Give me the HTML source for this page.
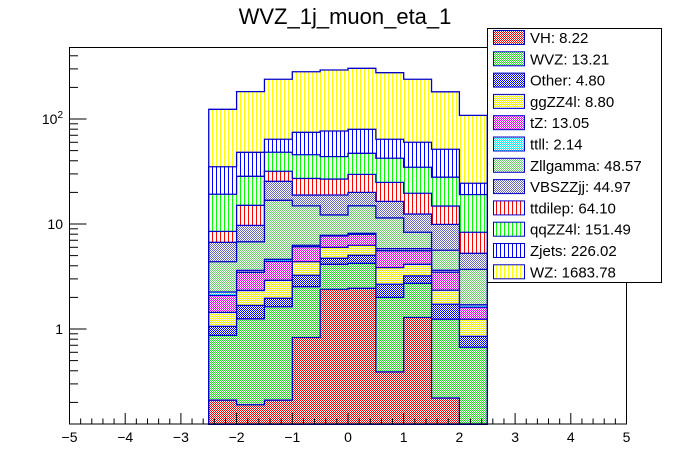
<!DOCTYPE html>
<html><head><meta charset="utf-8"><style>
html,body{margin:0;padding:0;background:#fff;}
svg{display:block;font-family:"Liberation Sans",sans-serif;}
pattern rect{shape-rendering:crispEdges;}
</style></head><body>
<svg id="chart" width="696" height="472" viewBox="0 0 696 472" xmlns="http://www.w3.org/2000/svg">
<defs>
<pattern id="p-VH" width="2" height="2" patternUnits="userSpaceOnUse"><rect width="2" height="2" fill="#fff"/><rect width="1" height="1" fill="#e00"/><rect x="1" y="1" width="1" height="1" fill="#e00"/></pattern>
<pattern id="p-WVZ" width="2" height="2" patternUnits="userSpaceOnUse"><rect width="2" height="2" fill="#fff"/><rect width="1" height="1" fill="#2d2"/><rect x="1" y="1" width="1" height="1" fill="#2d2"/></pattern>
<pattern id="p-Other" width="2" height="2" patternUnits="userSpaceOnUse"><rect width="2" height="2" fill="#fff"/><rect width="1" height="1" fill="#00e"/><rect x="1" y="1" width="1" height="1" fill="#00e"/></pattern>
<pattern id="p-ggZZ4l" width="2" height="2" patternUnits="userSpaceOnUse"><rect width="2" height="2" fill="#fff"/><rect width="1" height="1" fill="#ee0"/><rect x="1" y="1" width="1" height="1" fill="#ee0"/></pattern>
<pattern id="p-tZ" width="2" height="2" patternUnits="userSpaceOnUse"><rect width="2" height="2" fill="#fff"/><rect width="1" height="1" fill="#e0e"/><rect x="1" y="1" width="1" height="1" fill="#e0e"/></pattern>
<pattern id="p-ttll" width="2" height="2" patternUnits="userSpaceOnUse"><rect width="2" height="2" fill="#fff"/><rect width="1" height="1" fill="#0ee"/><rect x="1" y="1" width="1" height="1" fill="#0ee"/></pattern>
<pattern id="p-Zllgamma" width="2" height="2" patternUnits="userSpaceOnUse"><rect width="2" height="2" fill="#fff"/><rect width="1" height="1" fill="#6c6"/><rect x="1" y="1" width="1" height="1" fill="#6c6"/></pattern>
<pattern id="p-VBSZZjj" width="2" height="2" patternUnits="userSpaceOnUse"><rect width="2" height="2" fill="#fff"/><rect width="1" height="1" fill="#66b"/><rect x="1" y="1" width="1" height="1" fill="#66b"/></pattern>
<pattern id="p-ttdilep" width="4" height="4" patternUnits="userSpaceOnUse"><rect width="4" height="4" fill="#fff"/><rect width="1" height="4" fill="#f00"/></pattern>
<pattern id="p-qqZZ4l" width="4" height="4" patternUnits="userSpaceOnUse"><rect width="4" height="4" fill="#fff"/><rect width="1" height="4" fill="#0f0"/></pattern>
<pattern id="p-Zjets" width="4" height="4" patternUnits="userSpaceOnUse"><rect width="4" height="4" fill="#fff"/><rect width="1" height="4" fill="#00f"/></pattern>
<pattern id="p-WZ" width="4" height="4" patternUnits="userSpaceOnUse"><rect width="4" height="4" fill="#fff"/><rect width="1" height="4" fill="#ff0"/></pattern>
</defs>
<text x="345" y="24" font-size="22" text-anchor="middle" fill="#000">WVZ_1j_muon_eta_1</text>
<g id="bars"></g>
<rect x="69.5" y="47.5" width="557" height="376.5" fill="none" stroke="#000" stroke-width="1"/>
<g id="axes"></g>
<g id="legend"></g>
</svg>
<script>
// bin edges (eta)
const binEdges = [-2.5,-2.0,-1.5,-1.0,-0.5,0.0,0.5,1.0,1.5,2.0,2.5];
// series (bottom of stack first)
const seriesNames = ["VH","WVZ","Other","ggZZ4l","tZ","ttll","Zllgamma","VBSZZjj","ttdilep","qqZZ4l","Zjets","WZ"];
const legendLabels = ["VH: 8.22","WVZ: 13.21","Other: 4.80","ggZZ4l: 8.80","tZ: 13.05","ttll: 2.14","Zllgamma: 48.57","VBSZZjj: 44.97","ttdilep: 64.10","qqZZ4l: 151.49","Zjets: 226.02","WZ: 1683.78"];
const VH       = [0.21,0.19,0.21,0.83,2.39,2.44,0.39,1.29,0.22,0.05];
const WVZ      = [0.66,1.06,1.42,1.70,1.74,1.78,1.61,1.43,1.02,0.62];
const Other    = [0.19,0.43,0.33,0.72,0.58,0.81,0.67,0.48,0.48,0.18];
const ggZZ4l   = [0.38,0.65,0.95,1.12,1.29,1.24,1.17,0.93,0.62,0.39];
const tZ       = [0.65,1.13,1.50,1.71,1.69,1.71,1.73,1.44,1.13,0.37];
const ttll     = [0.16,0.15,0.20,0.19,0.11,0.17,0.25,0.25,0.15,0.09];
const Zllgamma = [2.12,3.16,12.2,8.6,4.4,6.75,5.6,2.52,2.0,2.0];
const VBSZZjj  = [2.32,2.94,8.7,4.0,6.7,5.1,5.0,4.1,4.3,1.56];
const ttdilep  = [1.82,5.35,6.3,8.3,7.9,9.7,8.5,7.2,4.9,3.08];
const qqZZ4l   = [10.7,13.4,16.4,18.5,17.0,17.4,17.4,15.1,13.1,10.7];
const Zjets    = [15.9,19.7,15.9,29.0,33.1,32.7,21.8,25.3,23.6,5.4];
const WZ       = [88.6,134,175,207,216,224,212,179,130,83.8];
const seriesValues = [VH,WVZ,Other,ggZZ4l,tZ,ttll,Zllgamma,VBSZZjj,ttdilep,qqZZ4l,Zjets,WZ];
const xTickLabels = ["\u22125","\u22124","\u22123","\u22122","\u22121","0","1","2","3","4","5"];
const yTickLabels = [["1",1],["10",10],["10²",100]];

const X0=69.5, X1=626.5, XMIN=-5, XMAX=5;
const YB=424, Y1=329, DEC=105, YT=47.5;
const NS="http://www.w3.org/2000/svg";
function xPos(v){return X0+(v-XMIN)/(XMAX-XMIN)*(X1-X0);}
function yPos(v){ if(v<=0) return YB+10; const y=Y1-Math.log10(v)*DEC; return Math.min(YB, Math.max(YT,y)); }
function mk(tag,attrs,parent){const e=document.createElementNS(NS,tag);for(const k in attrs)e.setAttribute(k,attrs[k]);parent.appendChild(e);return e;}

const bars=document.getElementById('bars');
const nb=binEdges.length-1;
const cum=[];
let run=new Array(nb).fill(0);
seriesValues.forEach(s=>{run=run.map((r,i)=>r+s[i]);cum.push(run.slice());});
for(let k=seriesNames.length-1;k>=0;k--){
  const c=cum[k];
  let d=`M${xPos(binEdges[0])},${YB}`;
  for(let i=0;i<nb;i++){const y=yPos(c[i]);d+=` L${xPos(binEdges[i])},${y} L${xPos(binEdges[i+1])},${y}`;}
  d+=` L${xPos(binEdges[nb])},${YB} Z`;
  const p=mk('path',{d:d,fill:`url(#p-${seriesNames[k]})`,stroke:'#0000cc','stroke-width':'1.3'},bars);
  
  
}

const axes=document.getElementById('axes');
for(let i=0;i<=50;i++){
  const v=XMIN+i*0.2; const x=xPos(v); const major=(i%5===0);
  const t=mk('line',{x1:x,x2:x,y1:YB,y2:YB-(major?11:5.5),stroke:'#000','stroke-width':1},axes);
  
  
}
xTickLabels.forEach((lab,i)=>{
  const t=mk('text',{x:xPos(XMIN+i),y:442,'font-size':'14','text-anchor':'middle',fill:'#000'},axes);
  t.textContent=lab;
  
  
});
for(let dec=-1;dec<=2;dec++){
  for(let m=1;m<=9;m++){
    const v=m*Math.pow(10,dec); const y=Y1-Math.log10(v)*DEC;
    if(y>YB||y<YT) continue;
    const t=mk('line',{x1:X0,x2:X0+(m===1?17:8.5),y1:y,y2:y,stroke:'#000','stroke-width':1},axes);
    
    
  }
}
yTickLabels.forEach(([lab,v])=>{
  const y=Y1-Math.log10(v)*DEC;
  const t=mk('text',{x:63,y:y+5,'font-size':'14','text-anchor':'end',fill:'#000'},axes);
  if(lab==="10²"){t.textContent="10";const s=mk('tspan',{dy:'-6','font-size':'10'},t);s.textContent="2";}
  else t.textContent=lab;
  
  
});

const lg=document.getElementById('legend');
const box=mk('rect',{x:487.5,y:28.5,width:174,height:254,fill:'#fff',stroke:'#000','stroke-width':1},lg);


seriesNames.forEach((n,i)=>{
  const cy=37.5+i*21.3;
  const g=mk('g',{},lg);
  
  
  mk('rect',{x:493.5,y:cy-7,width:31,height:14,fill:`url(#p-${n})`,stroke:'#0000cc','stroke-width':1},g);
  const t=mk('text',{x:530,y:cy+5.5,'font-size':'15',fill:'#000'},g);
  t.textContent=legendLabels[i];
});
</script>
</body></html>
